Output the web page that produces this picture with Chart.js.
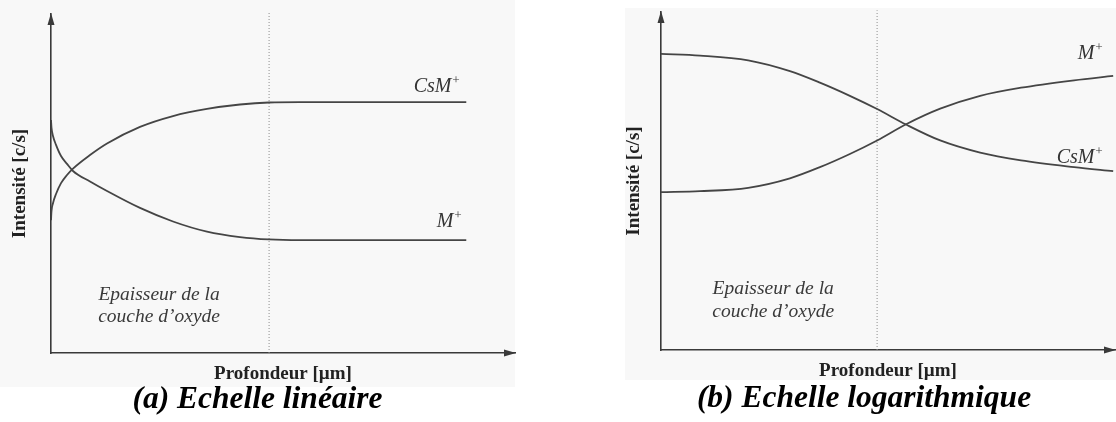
<!DOCTYPE html>
<html>
<head>
<meta charset="utf-8">
<script src="https://cdn.jsdelivr.net/npm/chart.js@4.4.0/dist/chart.umd.min.js"></script>
<style>
  body { margin: 0; background: #fff; width: 1116px; height: 422px; position: relative; overflow: hidden; }
  .bg { position: absolute; background: #f8f8f8; }
  .panel { position: absolute; top: 0; width: 558px; height: 422px; }
</style>
</head>
<body>
<div class="bg" style="left:0;top:0;width:515px;height:387px"></div>
<div class="bg" style="left:625px;top:8px;width:491px;height:372px"></div>
<div class="panel" style="left:0"><canvas id="linChart" width="558" height="422"></canvas></div>
<div class="panel" style="left:558px"><canvas id="logChart" width="558" height="422"></canvas></div>
<script>
const SERIF = '"Liberation Serif", "Times New Roman", serif';
const AXIS_COLOR = '#3a3a3a';
const CURVE_COLOR = '#454545';

// (a) linear intensity scale
const depthLin = [0, 0.11, 0.43, 1.08, 2.16, 3.45, 4.74, 8.41, 12.07, 19.18, 26.29, 33.62, 40.73, 46.98, 53.66, 89.5];
const csmLin = [39.2, 41.9, 44.2, 46.9, 50.1, 52.5, 54.4, 58.4, 61.8, 66.7, 69.9, 72.0, 73.3, 73.9, 74.0, 74.0];
const mLin = [68.7, 66.4, 64.0, 61.4, 58.1, 55.8, 53.7, 50.6, 47.8, 42.8, 38.8, 35.8, 34.2, 33.5, 33.3, 33.3];

// (b) logarithmic intensity scale
const depthLog = [0, 8.6, 19.2, 28.4, 35.0, 41.6, 47.6, 54.0, 61.5, 70.3, 79.3, 91.0, 99.6];
const csmLog = [87.6, 87.1, 85.7, 82.5, 79.1, 75.2, 71.3, 66.7, 62.0, 58.4, 56.1, 54.1, 52.9];
const mLog = [46.7, 47.0, 48.0, 50.8, 54.1, 58.0, 62.0, 66.8, 71.4, 75.2, 77.6, 79.8, 81.1];

// depth of the oxide / metal interface (dotted line) in each plot
const oxideDepth = [47.0, 47.6];
const ionNames = ['CsM', 'M'];
const captions = ['(a) Echelle linéaire', '(b) Echelle logarithmique'];
const oxideText = ['Epaisseur de la', 'couche d\u2019oxyde'];

// arrows, ion labels and the oxide note
const decorPlugin = {
  id: 'decor',
  afterDraw(chart, args, opts) {
    const { ctx, chartArea: area, scales: { x, y } } = chart;
    ctx.save();
    ctx.fillStyle = AXIS_COLOR;
    // y arrow
    ctx.beginPath();
    ctx.moveTo(area.left, area.top - 1);
    ctx.lineTo(area.left - 3.5, area.top + 11);
    ctx.lineTo(area.left + 3.5, area.top + 11);
    ctx.closePath();
    ctx.fill();
    // x arrow
    ctx.beginPath();
    ctx.moveTo(area.right + 1, area.bottom);
    ctx.lineTo(area.right - 11, area.bottom - 3.5);
    ctx.lineTo(area.right - 11, area.bottom + 3.5);
    ctx.closePath();
    ctx.fill();

    // ion labels next to the end of each curve
    ctx.fillStyle = '#333';
    ctx.textBaseline = 'alphabetic';
    opts.labels.forEach((lab) => {
      const meta = chart.getDatasetMeta(lab.dataset);
      const last = meta.data[meta.data.length - 1];
      ctx.font = 'italic 20px ' + SERIF;
      const w1 = ctx.measureText(lab.text).width;
      ctx.font = 'italic 13px ' + SERIF;
      const w2 = ctx.measureText('+').width;
      const right = last.x + lab.dx;
      const base = last.y + lab.dy;
      ctx.font = 'italic 20px ' + SERIF;
      ctx.textAlign = 'left';
      ctx.fillText(lab.text, right - w1 - w2, base);
      ctx.font = 'italic 13px ' + SERIF;
      ctx.fillText('+', right - w2, base - 8);
    });

    // oxide layer note
    ctx.font = 'italic 19.5px ' + SERIF;
    ctx.fillStyle = '#3a3a3a';
    ctx.textAlign = 'center';
    ctx.textBaseline = 'middle';
    const cx = x.getPixelForValue(opts.note.x);
    const cy = y.getPixelForValue(opts.note.y);
    oxideText.forEach((line, i) => ctx.fillText(line, cx, cy + i * opts.note.gap));
    ctx.restore();
  }
};

function buildChart(id, depth, csm, m, oxide, caption, lay, decor) {
  const toPoints = (vals) => vals.map((v, i) => ({ x: depth[i], y: v }));
  const curve = {
    borderColor: CURVE_COLOR,
    borderWidth: 1.8,
    pointRadius: 0,
    cubicInterpolationMode: 'monotone',
    fill: false
  };
  const titleFont = { family: SERIF, size: 19, weight: 'bold', lineHeight: 1 };
  return new Chart(document.getElementById(id), {
    type: 'line',
    data: {
      datasets: [
        Object.assign({ label: 'CsM+', data: toPoints(csm) }, curve),
        Object.assign({ label: 'M+', data: toPoints(m) }, curve),
        {
          label: 'oxyde',
          data: [{ x: oxide, y: 0 }, { x: oxide, y: 100.5 }],
          borderColor: '#8c8c8c',
          borderWidth: 1,
          borderDash: [1, 2],
          pointRadius: 0,
          clip: false
        }
      ]
    },
    options: {
      responsive: false,
      animation: false,
      events: [],
      layout: { padding: lay.padding },
      plugins: {
        legend: { display: false },
        tooltip: { enabled: false },
        title: {
          display: true,
          position: 'bottom',
          text: caption,
          color: '#000',
          padding: 0,
          font: { family: SERIF, size: 31.5, weight: 'bold', style: 'italic', lineHeight: 1.05 }
        },
        decor: decor
      },
      scales: {
        x: {
          type: 'linear',
          min: 0,
          max: 100,
          grid: { display: false, drawTicks: false },
          ticks: { display: false },
          border: { display: true, color: AXIS_COLOR, width: 1.6 },
          title: { display: true, text: 'Profondeur [µm]', color: '#222', font: titleFont, padding: lay.xPad }
        },
        y: {
          type: 'linear',
          min: 0,
          max: 100,
          grid: { display: false, drawTicks: false },
          ticks: { display: false },
          border: { display: true, color: AXIS_COLOR, width: 1.6 },
          title: { display: true, text: 'Intensité [c/s]', color: '#222', font: titleFont, padding: lay.yPad }
        }
      }
    },
    plugins: [decorPlugin]
  });
}

buildChart('linChart', depthLin, csmLin, mLin, oxideDepth[0], captions[0],
  {
    padding: { top: 14, left: 0, right: 43, bottom: 5.4 },
    xPad: { top: 11.5, bottom: 0 },
    yPad: { top: 10.5, bottom: 21.5 }
  },
  {
    labels: [
      { dataset: 0, text: ionNames[0], dx: -6, dy: -10 },
      { dataset: 1, text: ionNames[1], dx: -4, dy: -13 }
    ],
    note: { x: 23.3, y: 17.1, gap: 22 }
  });

buildChart('logChart', depthLog, csmLog, mLog, oxideDepth[1], captions[1],
  {
    padding: { top: 12, left: 55, right: 1, bottom: 6.4 },
    xPad: { top: 11.5, bottom: 2 },
    yPad: { top: 11.5, bottom: 17.5 }
  },
  {
    labels: [
      { dataset: 1, text: ionNames[1], dx: -10, dy: -17 },
      { dataset: 0, text: ionNames[0], dx: -10, dy: -8 }
    ],
    note: { x: 24.7, y: 18.0, gap: 23 }
  });
</script>
</body>
</html>
